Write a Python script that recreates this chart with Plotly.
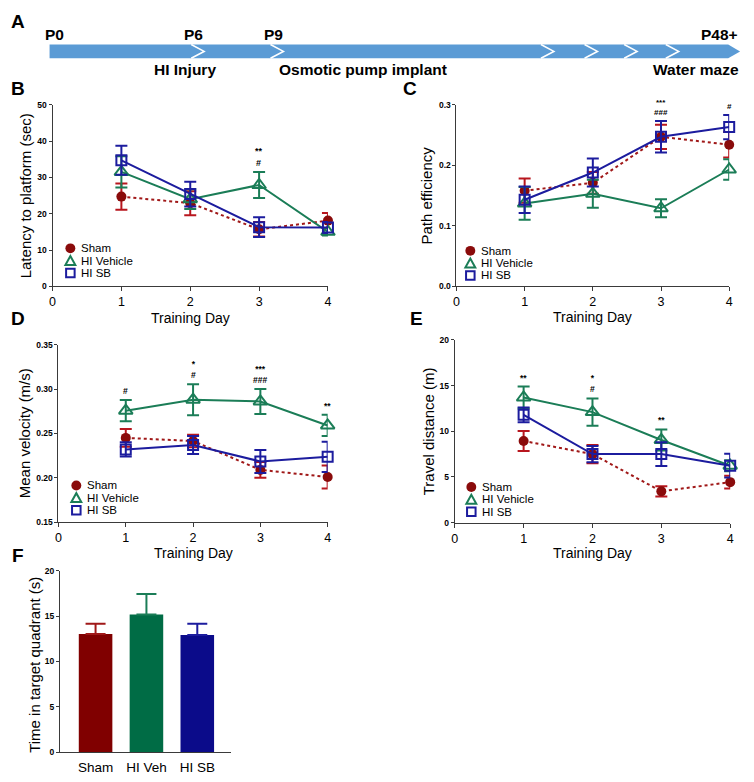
import plotly.graph_objects as go

W, H = 754, 782

# ---------------- data ----------------
days = [1, 2, 3, 4]
groups = ["Sham", "HI Vehicle", "HI SB"]

latency_sham = [24.7, 22.9, 15.7, 18.1]
latency_sham_err = [3.6, 3.3, 2.0, 2.1]
latency_veh = [31.5, 24.0, 27.9, 15.0]
latency_veh_err = [4.3, 2.7, 3.6, 1.0]
latency_sb = [34.7, 25.4, 16.3, 16.2]
latency_sb_err = [4.0, 3.4, 2.7, 1.5]
latency_star = ["", "", "**", ""]
latency_hash = ["", "", "#", ""]

eff_sham = [0.158, 0.171, 0.247, 0.234]
eff_sham_err = [0.020, 0.018, 0.020, 0.021]
eff_veh = [0.137, 0.153, 0.129, 0.193]
eff_veh_err = [0.027, 0.023, 0.015, 0.017]
eff_sb = [0.143, 0.188, 0.247, 0.263]
eff_sb_err = [0.022, 0.023, 0.026, 0.020]
eff_star = ["", "", "***", ""]
eff_hash = ["", "", "###", "#"]

vel_sham = [0.245, 0.2415, 0.209, 0.201]
vel_sham_err = [0.010, 0.007, 0.009, 0.013]
vel_veh = [0.2756, 0.288, 0.286, 0.259]
vel_veh_err = [0.012, 0.0175, 0.014, 0.012]
vel_sb = [0.232, 0.237, 0.2185, 0.2237]
vel_sb_err = [0.008, 0.010, 0.013, 0.017]
vel_star = ["", "*", "***", "**"]
vel_hash = ["#", "#", "###", ""]

dist_sham = [8.94, 7.5, 3.42, 4.43]
dist_sham_err = [1.1, 1.0, 0.55, 0.7]
dist_veh = [13.7, 12.1, 9.05, 6.23]
dist_veh_err = [1.2, 1.5, 1.15, 0.6]
dist_sb = [11.8, 7.5, 7.5, 6.23]
dist_sb_err = [0.8, 0.9, 1.3, 1.3]
dist_star = ["**", "*", "**", ""]
dist_hash = ["", "#", "", ""]

quad_groups = ["Sham", "HI Veh", "HI SB"]
quad_time = [13.04, 15.2, 12.93]
quad_err = [1.13, 2.25, 1.24]

timeline_days = ["P0", "P6", "P9", "P48+"]
timeline_events = ["HI Injury", "Osmotic pump implant", "Water maze"]

# ---------------- styles ----------------
FONT = "Arial, Liberation Sans, sans-serif"
SHAM_M = "#8a0b0b"
SHAM_E = "#b8161e"
SHAM_L = "#a01818"
VEH = "#1b7d57"
SB = "#1c1c9e"
BAR_COLORS = ["#800000", "#006c45", "#0b0b8a"]
BAR_ERR = ["#a01818", "#1b7d57", "#1c1c9e"]
BLUE = "#5b9bd5"
AXIS = "#3a3a3a"
LEG_STEP = 12.5


def X(px):
    return px / W


def Y(py):
    return 1 - py / H


fig = go.Figure()
shapes = []
annotations = []

# ---------------- timeline (panel A) ----------------
ax0, ax1, tipx, top, bot = 47, 732, 744, 40, 54
mid = (top + bot) / 2
shapes.append(dict(
    type="path", xref="paper", yref="paper",
    path=(f"M {X(ax0)},{Y(top)} L {X(ax1)},{Y(top)} L {X(tipx)},{Y(mid)} "
          f"L {X(ax1)},{Y(bot)} L {X(ax0)},{Y(bot)} Z"),
    fillcolor=BLUE, line=dict(width=0), layer="above"))
for cx in [190, 270, 543, 587, 627, 669]:
    shapes.append(dict(
        type="path", xref="paper", yref="paper",
        path=f"M {X(cx)},{Y(top)} L {X(cx + 13)},{Y(mid)} L {X(cx)},{Y(bot)}",
        line=dict(color="white", width=1.6), layer="above"))

for txt, cx in zip(timeline_days, [52, 192, 273, 723]):
    annotations.append(dict(text=txt, x=X(cx), y=Y(30), xref="paper", yref="paper",
                            showarrow=False, xanchor="center", yanchor="middle",
                            font=dict(family=FONT, size=15.5, color="black", weight="bold")))
for txt, cx, anc in zip(timeline_events, [150, 277, 745], ["left", "left", "right"]):
    annotations.append(dict(text=txt, x=X(cx), y=Y(65), xref="paper", yref="paper",
                            showarrow=False, xanchor=anc, yanchor="middle",
                            font=dict(family=FONT, size=15.5, color="black", weight="bold")))

# panel letters
for letter, cx, cy in [("A", 15, 17), ("B", 15, 85), ("C", 411, 85),
                       ("D", 15, 318), ("E", 417, 318), ("F", 15, 558)]:
    annotations.append(dict(text=letter, x=X(cx), y=Y(cy), xref="paper", yref="paper",
                            showarrow=False, xanchor="center", yanchor="middle",
                            font=dict(family=FONT, size=19, color="black", weight="bold")))

# ---------------- line panels ----------------
panels = [
    dict(ax="", dom=(50, 328, 101, 285), yr=[0, 50], tv=[0, 10, 20, 30, 40, 50], fmt="d",
         title="Latency to platform (sec)", tx=23, xty=317,
         data=[(latency_sham, latency_sham_err), (latency_veh, latency_veh_err), (latency_sb, latency_sb_err)],
         star=latency_star, hash=latency_hash, leg=(68, 246.5), ss=9),
    dict(ax="2", dom=(457.7, 733, 101, 285), yr=[0, 0.3], tv=[0, 0.1, 0.2, 0.3], fmt=".1f",
         title="Path efficiency", tx=428, xty=316.5,
         data=[(eff_sham, eff_sham_err), (eff_veh, eff_veh_err), (eff_sb, eff_sb_err)],
         star=eff_star, hash=eff_hash, leg=(471.7, 249), ss=8),
    dict(ax="3", dom=(56, 327.7, 344, 524), yr=[0.15, 0.35], tv=[0.15, 0.20, 0.25, 0.30, 0.35], fmt=".2f",
         title="Mean velocity (m/s)", tx=22, xty=555,
         data=[(vel_sham, vel_sham_err), (vel_veh, vel_veh_err), (vel_sb, vel_sb_err)],
         star=vel_star, hash=vel_hash, leg=(74, 486.7), ss=8.5),
    dict(ax="4", dom=(456, 734, 339.3, 524.3), yr=[0, 20], tv=[0, 5, 10, 15, 20], fmt="d",
         title="Travel distance (m)", tx=429, xty=555,
         data=[(dist_sham, dist_sham_err), (dist_veh, dist_veh_err), (dist_sb, dist_sb_err)],
         star=dist_star, hash=dist_hash, leg=(472.7, 488.3), ss=8.5),
]

layout_axes = {}
for p in panels:
    a = p["ax"]
    xref, yref = "x" + a, "y" + a
    x0, x1, y0, y1 = p["dom"]
    styles = [
        dict(mode="lines+markers", line=dict(color=SHAM_L, width=2, dash="dot"),
             marker=dict(symbol="circle", size=10, color=SHAM_M),
             err=SHAM_E),
        dict(mode="lines+markers", line=dict(color=VEH, width=2),
             marker=dict(symbol="triangle-up-open", size=12, color=VEH, line=dict(width=2, color=VEH)),
             err=VEH),
        dict(mode="lines+markers", line=dict(color=SB, width=2),
             marker=dict(symbol="square-open", size=10, color=SB, line=dict(width=2, color=SB)),
             err=SB),
    ]
    for (vals, errs), st, name in zip(p["data"], styles, groups):
        fig.add_trace(go.Scatter(
            x=days, y=vals, name=name, mode=st["mode"], line=st["line"], marker=st["marker"],
            error_y=dict(type="data", array=errs, color=st["err"], thickness=2, width=6),
            xaxis=xref, yaxis=yref, showlegend=False, cliponaxis=False))

    layout_axes["xaxis" + a] = dict(
        domain=[X(x0), X(x1)], anchor=yref, range=[0, 4], tickvals=[0, 1, 2, 3, 4],
        showline=True, linecolor=AXIS, linewidth=1, ticks="outside", ticklen=4,
        tickcolor=AXIS, showgrid=False, zeroline=False,
        tickfont=dict(family=FONT, size=12.5, color="black"))
    layout_axes["yaxis" + a] = dict(
        domain=[Y(y1), Y(y0)], anchor=xref, range=p["yr"], tickvals=p["tv"], tickformat=p["fmt"],
        showline=True, linecolor=AXIS, linewidth=1, ticks="outside", ticklen=3,
        tickcolor=AXIS, showgrid=False, zeroline=False,
        tickfont=dict(family=FONT, size=8.5, color="black", weight="bold"))

    # axis titles
    annotations.append(dict(text=p["title"], x=X(p["tx"]), y=Y((y0 + y1) / 2), xref="paper", yref="paper",
                            textangle=-90, showarrow=False, xanchor="center", yanchor="middle",
                            font=dict(family=FONT, size=15, color="black")))
    annotations.append(dict(text="Training Day", x=X((x0 + x1) / 2), y=Y(p["xty"]), xref="paper", yref="paper",
                            showarrow=False, xanchor="center", yanchor="middle", borderpad=0,
                            font=dict(family=FONT, size=14, color="black")))

    # significance marks (stars above hashes, one text block per day)
    for i, d in enumerate(days):
        lines = [s for s in (p["star"][i], p["hash"][i]) if s]
        if not lines:
            continue
        topv = max(v[i] + e[i] for v, e in p["data"])
        annotations.append(dict(text="<br>".join(lines), x=d, y=topv, xref=xref, yref=yref,
                                showarrow=False, xanchor="center", yanchor="bottom", yshift=2,
                                font=dict(family=FONT, size=p["ss"], color="black", weight="bold")))

    # legend
    lx, ly = p["leg"]
    for i, name in enumerate(groups):
        cy = ly + i * LEG_STEP
        if i == 0:
            shapes.append(dict(type="circle", xref="paper", yref="paper",
                               x0=X(lx - 5), x1=X(lx + 5), y0=Y(cy + 5), y1=Y(cy - 5),
                               fillcolor=SHAM_M, line=dict(width=0)))
        elif i == 1:
            shapes.append(dict(type="path", xref="paper", yref="paper",
                               path=(f"M {X(lx - 5)},{Y(cy + 4.3)} L {X(lx + 5)},{Y(cy + 4.3)} "
                                     f"L {X(lx)},{Y(cy - 4.7)} Z"),
                               line=dict(color=VEH, width=2)))
        else:
            shapes.append(dict(type="rect", xref="paper", yref="paper",
                               x0=X(lx - 4.3), x1=X(lx + 4.3), y0=Y(cy + 4.3), y1=Y(cy - 4.3),
                               line=dict(color=SB, width=2)))
        annotations.append(dict(text=name, x=X(lx + 10), y=Y(cy), xref="paper", yref="paper",
                                showarrow=False, xanchor="left", yanchor="middle", borderpad=0,
                                font=dict(family=FONT, size=11.5, color="black")))

# ---------------- bar panel F ----------------
fig.add_trace(go.Bar(
    x=quad_groups, y=quad_time, marker=dict(color=BAR_COLORS, line=dict(width=0)), width=0.66,
    xaxis="x5", yaxis="y5", showlegend=False))
for i in range(3):
    fig.add_trace(go.Scatter(
        x=[quad_groups[i]], y=[quad_time[i]], mode="markers", marker=dict(size=1, color="rgba(0,0,0,0)"),
        error_y=dict(type="data", symmetric=False, array=[quad_err[i]], arrayminus=[0],
                     color=BAR_ERR[i], thickness=2, width=10),
        xaxis="x5", yaxis="y5", showlegend=False, hoverinfo="skip"))

layout_axes["xaxis5"] = dict(
    domain=[X(57.5), X(230)], anchor="y5", range=[-0.7, 2.66], type="category",
    showline=True, linecolor=AXIS, linewidth=1, ticks="outside", ticklen=3,
    tickcolor="rgba(0,0,0,0)", showgrid=False, zeroline=False,
    tickfont=dict(family=FONT, size=13.5, color="black"))
layout_axes["yaxis5"] = dict(
    domain=[Y(756.7), Y(573.3)], anchor="x5", range=[0, 20], tickvals=[0, 5, 10, 15, 20],
    showline=True, linecolor=AXIS, linewidth=1, ticks="outside", ticklen=3,
    tickcolor=AXIS, showgrid=False, zeroline=False,
    tickfont=dict(family=FONT, size=8.5, color="black", weight="bold"))
annotations.append(dict(text="Time in target quadrant (s)", x=X(31.7), y=Y(668), xref="paper", yref="paper",
                        textangle=-90, showarrow=False, xanchor="center", yanchor="middle",
                        font=dict(family=FONT, size=15, color="black")))

fig.update_layout(
    width=W, height=H, margin=dict(l=0, r=0, t=0, b=0),
    paper_bgcolor="white", plot_bgcolor="white",
    shapes=shapes, annotations=annotations, showlegend=False,
    font=dict(family=FONT, color="black"),
    **layout_axes)

fig.write_html("out.html", config={"displayModeBar": False},
               post_script="document.body.style.margin='0';")
